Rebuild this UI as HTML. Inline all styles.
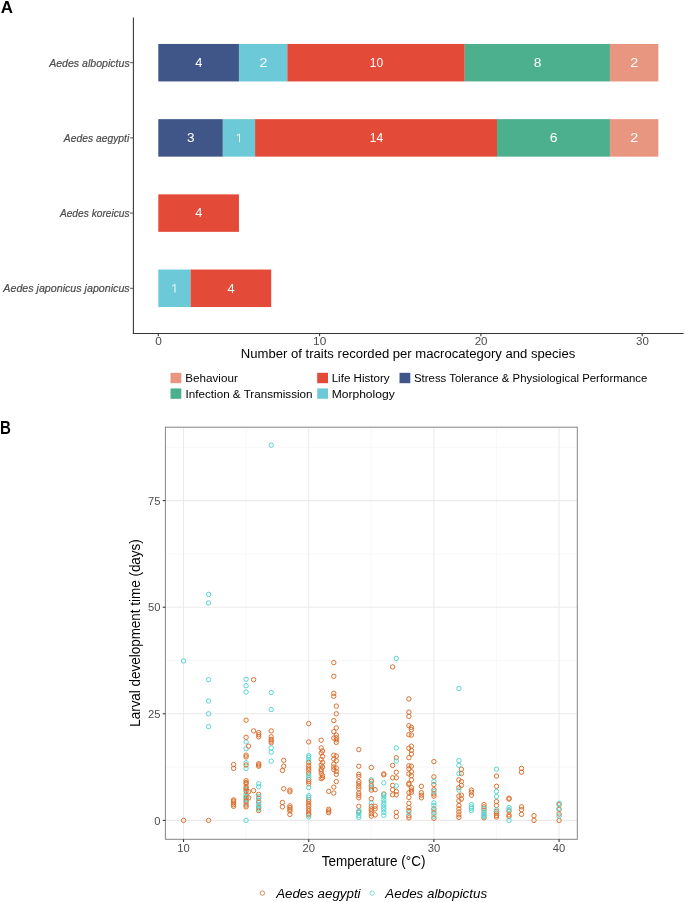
<!DOCTYPE html>
<html><head><meta charset="utf-8"><style>
html,body{margin:0;padding:0;background:#fff;overflow:hidden;}
svg{display:block;font-family:"Liberation Sans", sans-serif;will-change:transform;}
</style></head><body>
<svg width="685" height="902" viewBox="0 0 685 902">
<rect width="685" height="902" fill="#fff"/>
<text transform="translate(0.63,12.80) scale(0.9823,1)" font-size="17.246" font-weight="bold" fill="#000">A</text>
<rect x="158.30" y="43.95" width="80.65" height="37.5" fill="#405688"/>
<text transform="translate(195.32,67.00) scale(1.0327,1)" font-size="12.464" fill="#fff">4</text>
<rect x="238.95" y="43.95" width="48.39" height="37.5" fill="#6CCAD8"/>
<text transform="translate(259.38,67.00) scale(1.1628,1)" font-size="12.286" fill="#fff">2</text>
<rect x="287.34" y="43.95" width="177.43" height="37.5" fill="#E44A38"/>
<text transform="translate(369.70,67.00) scale(0.9849,1)" font-size="12.286" fill="#fff">10</text>
<rect x="464.77" y="43.95" width="145.17" height="37.5" fill="#4CB08E"/>
<text transform="translate(533.68,67.00) scale(1.1257,1)" font-size="12.286" fill="#fff">8</text>
<rect x="609.94" y="43.95" width="48.39" height="37.5" fill="#E89680"/>
<text transform="translate(630.37,67.00) scale(1.1628,1)" font-size="12.286" fill="#fff">2</text>
<line x1="130" y1="62.7" x2="133.4" y2="62.7" stroke="#333" stroke-width="0.8"/>
<text transform="translate(49.13,66.60) scale(0.8963,1)" font-size="11.807" font-style="italic" fill="#4D4D4D" stroke="#4D4D4D" stroke-width="0.22">Aedes albopictus</text>
<rect x="158.30" y="119.15" width="64.52" height="37.5" fill="#405688"/>
<text transform="translate(186.96,142.20) scale(1.1138,1)" font-size="12.286" fill="#fff">3</text>
<rect x="222.82" y="119.15" width="32.26" height="37.5" fill="#6CCAD8"/>
<path d="M239.50,142.10 V133.80 M239.20,134.10 L236.80,135.70" fill="none" stroke="#fff" stroke-width="0.95"/>
<rect x="255.08" y="119.15" width="241.95" height="37.5" fill="#E44A38"/>
<text transform="translate(369.70,142.20) scale(0.9660,1)" font-size="12.464" fill="#fff">14</text>
<rect x="497.03" y="119.15" width="112.91" height="37.5" fill="#4CB08E"/>
<text transform="translate(549.74,142.20) scale(1.1378,1)" font-size="12.286" fill="#fff">6</text>
<rect x="609.94" y="119.15" width="48.39" height="37.5" fill="#E89680"/>
<text transform="translate(630.37,142.20) scale(1.1628,1)" font-size="12.286" fill="#fff">2</text>
<line x1="130" y1="137.9" x2="133.4" y2="137.9" stroke="#333" stroke-width="0.8"/>
<text transform="translate(63.82,141.60) scale(0.8747,1)" font-size="11.807" font-style="italic" fill="#4D4D4D" stroke="#4D4D4D" stroke-width="0.22">Aedes aegypti</text>
<rect x="158.30" y="194.35" width="80.65" height="37.5" fill="#E44A38"/>
<text transform="translate(195.32,217.40) scale(1.0327,1)" font-size="12.464" fill="#fff">4</text>
<line x1="130" y1="213.1" x2="133.4" y2="213.1" stroke="#333" stroke-width="0.8"/>
<text transform="translate(59.91,216.60) scale(0.8649,1)" font-size="11.807" font-style="italic" fill="#4D4D4D" stroke="#4D4D4D" stroke-width="0.22">Aedes koreicus</text>
<rect x="158.30" y="269.55" width="32.26" height="37.5" fill="#6CCAD8"/>
<path d="M174.98,292.50 V284.20 M174.68,284.50 L172.28,286.10" fill="none" stroke="#fff" stroke-width="0.95"/>
<rect x="190.56" y="269.55" width="80.65" height="37.5" fill="#E44A38"/>
<text transform="translate(227.58,292.60) scale(1.0327,1)" font-size="12.464" fill="#fff">4</text>
<line x1="130" y1="288.3" x2="133.4" y2="288.3" stroke="#333" stroke-width="0.8"/>
<text transform="translate(3.33,292.10) scale(0.9272,1)" font-size="11.512" font-style="italic" fill="#4D4D4D" stroke="#4D4D4D" stroke-width="0.22">Aedes japonicus japonicus</text>
<line x1="133.4" y1="17.5" x2="133.4" y2="333.5" stroke="#333" stroke-width="1.07"/>
<line x1="132.9" y1="333.5" x2="683.6" y2="333.5" stroke="#333" stroke-width="1.07"/>
<line x1="158.30" y1="333.5" x2="158.30" y2="336.3" stroke="#333" stroke-width="1.07"/>
<text transform="translate(155.33,344.80) scale(1.0137,1)" font-size="11.714" fill="#4D4D4D">0</text>
<line x1="319.60" y1="333.5" x2="319.60" y2="336.3" stroke="#333" stroke-width="1.07"/>
<text transform="translate(313.12,344.80) scale(1.0073,1)" font-size="11.714" fill="#4D4D4D">10</text>
<line x1="480.90" y1="333.5" x2="480.90" y2="336.3" stroke="#333" stroke-width="1.07"/>
<text transform="translate(474.67,344.80) scale(0.9911,1)" font-size="11.714" fill="#4D4D4D">20</text>
<line x1="642.20" y1="333.5" x2="642.20" y2="336.3" stroke="#333" stroke-width="1.07"/>
<text transform="translate(636.09,344.80) scale(0.9815,1)" font-size="11.714" fill="#4D4D4D">30</text>
<text transform="translate(240.85,357.90) scale(0.9730,1)" font-size="13.469" fill="#000">Number of traits recorded per macrocategory and species</text>
<rect x="170.5" y="372.8" width="10.8" height="10.4" fill="#E89680"/>
<text transform="translate(185.27,382.10) scale(1.0742,1)" font-size="10.862" fill="#000">Behaviour</text>
<rect x="170.5" y="388.4" width="10.8" height="10.4" fill="#4CB08E"/>
<text transform="translate(185.55,397.70) scale(1.0741,1)" font-size="10.862" fill="#000">Infection &amp; Transmission</text>
<rect x="317.2" y="372.8" width="10.8" height="10.4" fill="#E44A38"/>
<text transform="translate(331.67,382.10) scale(1.0666,1)" font-size="10.862" fill="#000">Life History</text>
<rect x="317.2" y="388.4" width="10.8" height="10.4" fill="#6CCAD8"/>
<text transform="translate(331.63,397.70) scale(1.1130,1)" font-size="10.862" fill="#000">Morphology</text>
<rect x="399.5" y="372.8" width="10.8" height="10.4" fill="#405688"/>
<text transform="translate(413.99,382.10) scale(1.0493,1)" font-size="10.862" fill="#000">Stress Tolerance &amp; Physiological Performance</text>
<text transform="translate(-0.08,434.00) scale(0.8600,1)" font-size="17.536" font-weight="bold" fill="#000">B</text>
<line x1="246.13" y1="427.2" x2="246.13" y2="839.3" stroke="#F2F2F2" stroke-width="0.55"/>
<line x1="371.31" y1="427.2" x2="371.31" y2="839.3" stroke="#F2F2F2" stroke-width="0.55"/>
<line x1="496.48" y1="427.2" x2="496.48" y2="839.3" stroke="#F2F2F2" stroke-width="0.55"/>
<line x1="165.4" y1="767.10" x2="577.3" y2="767.10" stroke="#F2F2F2" stroke-width="0.55"/>
<line x1="165.4" y1="660.50" x2="577.3" y2="660.50" stroke="#F2F2F2" stroke-width="0.55"/>
<line x1="165.4" y1="553.90" x2="577.3" y2="553.90" stroke="#F2F2F2" stroke-width="0.55"/>
<line x1="165.4" y1="447.30" x2="577.3" y2="447.30" stroke="#F2F2F2" stroke-width="0.55"/>
<line x1="183.55" y1="427.2" x2="183.55" y2="839.3" stroke="#EBEBEB" stroke-width="1.07"/>
<line x1="308.72" y1="427.2" x2="308.72" y2="839.3" stroke="#EBEBEB" stroke-width="1.07"/>
<line x1="433.89" y1="427.2" x2="433.89" y2="839.3" stroke="#EBEBEB" stroke-width="1.07"/>
<line x1="559.06" y1="427.2" x2="559.06" y2="839.3" stroke="#EBEBEB" stroke-width="1.07"/>
<line x1="165.4" y1="820.40" x2="577.3" y2="820.40" stroke="#EBEBEB" stroke-width="1.07"/>
<line x1="165.4" y1="713.80" x2="577.3" y2="713.80" stroke="#EBEBEB" stroke-width="1.07"/>
<line x1="165.4" y1="607.20" x2="577.3" y2="607.20" stroke="#EBEBEB" stroke-width="1.07"/>
<line x1="165.4" y1="500.60" x2="577.3" y2="500.60" stroke="#EBEBEB" stroke-width="1.07"/>
<g id="pts" fill="none" stroke-width="0.95">
<circle cx="246.1" cy="741.9" r="2.2" stroke="#50D4CC"/>
<circle cx="246.1" cy="748.8" r="2.2" stroke="#50D4CC"/>
<circle cx="246.1" cy="762.8" r="2.2" stroke="#50D4CC"/>
<circle cx="246.1" cy="768.4" r="2.2" stroke="#50D4CC"/>
<circle cx="246.1" cy="789.7" r="2.2" stroke="#50D4CC"/>
<circle cx="246.1" cy="794.4" r="2.2" stroke="#50D4CC"/>
<circle cx="246.1" cy="796.5" r="2.2" stroke="#50D4CC"/>
<circle cx="246.1" cy="799.5" r="2.2" stroke="#50D4CC"/>
<circle cx="246.1" cy="802.9" r="2.2" stroke="#50D4CC"/>
<circle cx="246.1" cy="820.4" r="2.2" stroke="#50D4CC"/>
<circle cx="371.3" cy="779.9" r="2.2" stroke="#50D4CC"/>
<circle cx="371.3" cy="783.7" r="2.2" stroke="#50D4CC"/>
<circle cx="371.3" cy="788.0" r="2.2" stroke="#50D4CC"/>
<circle cx="371.3" cy="802.9" r="2.2" stroke="#50D4CC"/>
<circle cx="183.6" cy="820.4" r="2.2" stroke="#D86A28"/>
<circle cx="208.6" cy="820.4" r="2.2" stroke="#D86A28"/>
<circle cx="233.6" cy="764.5" r="2.2" stroke="#D86A28"/>
<circle cx="233.6" cy="768.4" r="2.2" stroke="#D86A28"/>
<circle cx="233.6" cy="799.9" r="2.2" stroke="#D86A28"/>
<circle cx="233.6" cy="801.2" r="2.2" stroke="#D86A28"/>
<circle cx="233.6" cy="802.9" r="2.2" stroke="#D86A28"/>
<circle cx="233.6" cy="804.6" r="2.2" stroke="#D86A28"/>
<circle cx="233.6" cy="806.3" r="2.2" stroke="#D86A28"/>
<circle cx="246.1" cy="720.2" r="2.2" stroke="#D86A28"/>
<circle cx="246.1" cy="737.3" r="2.2" stroke="#D86A28"/>
<circle cx="246.1" cy="755.2" r="2.2" stroke="#D86A28"/>
<circle cx="246.1" cy="756.9" r="2.2" stroke="#D86A28"/>
<circle cx="246.1" cy="765.0" r="2.2" stroke="#D86A28"/>
<circle cx="246.1" cy="780.7" r="2.2" stroke="#D86A28"/>
<circle cx="246.1" cy="782.5" r="2.2" stroke="#D86A28"/>
<circle cx="246.1" cy="783.7" r="2.2" stroke="#D86A28"/>
<circle cx="246.1" cy="786.7" r="2.2" stroke="#D86A28"/>
<circle cx="246.1" cy="788.4" r="2.2" stroke="#D86A28"/>
<circle cx="246.1" cy="791.4" r="2.2" stroke="#D86A28"/>
<circle cx="246.1" cy="797.8" r="2.2" stroke="#D86A28"/>
<circle cx="246.1" cy="801.2" r="2.2" stroke="#D86A28"/>
<circle cx="246.1" cy="805.0" r="2.2" stroke="#D86A28"/>
<circle cx="246.1" cy="806.8" r="2.2" stroke="#D86A28"/>
<circle cx="248.6" cy="746.2" r="2.2" stroke="#D86A28"/>
<circle cx="248.6" cy="791.8" r="2.2" stroke="#D86A28"/>
<circle cx="248.6" cy="797.8" r="2.2" stroke="#D86A28"/>
<circle cx="253.6" cy="679.7" r="2.2" stroke="#D86A28"/>
<circle cx="253.6" cy="730.9" r="2.2" stroke="#D86A28"/>
<circle cx="253.6" cy="790.6" r="2.2" stroke="#D86A28"/>
<circle cx="258.7" cy="732.6" r="2.2" stroke="#D86A28"/>
<circle cx="258.7" cy="734.7" r="2.2" stroke="#D86A28"/>
<circle cx="258.7" cy="736.8" r="2.2" stroke="#D86A28"/>
<circle cx="258.7" cy="763.7" r="2.2" stroke="#D86A28"/>
<circle cx="258.7" cy="765.0" r="2.2" stroke="#D86A28"/>
<circle cx="258.7" cy="766.2" r="2.2" stroke="#D86A28"/>
<circle cx="258.7" cy="794.4" r="2.2" stroke="#D86A28"/>
<circle cx="258.7" cy="798.2" r="2.2" stroke="#D86A28"/>
<circle cx="258.7" cy="802.1" r="2.2" stroke="#D86A28"/>
<circle cx="258.7" cy="807.6" r="2.2" stroke="#D86A28"/>
<circle cx="258.7" cy="810.6" r="2.2" stroke="#D86A28"/>
<circle cx="271.2" cy="730.9" r="2.2" stroke="#D86A28"/>
<circle cx="271.2" cy="736.8" r="2.2" stroke="#D86A28"/>
<circle cx="271.2" cy="739.4" r="2.2" stroke="#D86A28"/>
<circle cx="271.2" cy="741.1" r="2.2" stroke="#D86A28"/>
<circle cx="271.2" cy="742.8" r="2.2" stroke="#D86A28"/>
<circle cx="283.7" cy="760.3" r="2.2" stroke="#D86A28"/>
<circle cx="283.7" cy="766.2" r="2.2" stroke="#D86A28"/>
<circle cx="283.7" cy="788.8" r="2.2" stroke="#D86A28"/>
<circle cx="282.4" cy="770.5" r="2.2" stroke="#D86A28"/>
<circle cx="282.4" cy="802.5" r="2.2" stroke="#D86A28"/>
<circle cx="282.4" cy="806.8" r="2.2" stroke="#D86A28"/>
<circle cx="289.9" cy="790.1" r="2.2" stroke="#D86A28"/>
<circle cx="289.9" cy="791.8" r="2.2" stroke="#D86A28"/>
<circle cx="289.9" cy="805.9" r="2.2" stroke="#D86A28"/>
<circle cx="289.9" cy="807.6" r="2.2" stroke="#D86A28"/>
<circle cx="289.9" cy="809.3" r="2.2" stroke="#D86A28"/>
<circle cx="289.9" cy="811.0" r="2.2" stroke="#D86A28"/>
<circle cx="289.9" cy="814.4" r="2.2" stroke="#D86A28"/>
<circle cx="308.7" cy="723.6" r="2.2" stroke="#D86A28"/>
<circle cx="308.7" cy="741.9" r="2.2" stroke="#D86A28"/>
<circle cx="308.7" cy="762.4" r="2.2" stroke="#D86A28"/>
<circle cx="308.7" cy="765.4" r="2.2" stroke="#D86A28"/>
<circle cx="308.7" cy="768.0" r="2.2" stroke="#D86A28"/>
<circle cx="308.7" cy="770.1" r="2.2" stroke="#D86A28"/>
<circle cx="308.7" cy="773.1" r="2.2" stroke="#D86A28"/>
<circle cx="308.7" cy="779.5" r="2.2" stroke="#D86A28"/>
<circle cx="308.7" cy="781.6" r="2.2" stroke="#D86A28"/>
<circle cx="308.7" cy="783.7" r="2.2" stroke="#D86A28"/>
<circle cx="308.7" cy="799.5" r="2.2" stroke="#D86A28"/>
<circle cx="308.7" cy="801.6" r="2.2" stroke="#D86A28"/>
<circle cx="308.7" cy="804.2" r="2.2" stroke="#D86A28"/>
<circle cx="308.7" cy="806.3" r="2.2" stroke="#D86A28"/>
<circle cx="308.7" cy="808.9" r="2.2" stroke="#D86A28"/>
<circle cx="308.7" cy="811.0" r="2.2" stroke="#D86A28"/>
<circle cx="308.7" cy="813.6" r="2.2" stroke="#D86A28"/>
<circle cx="308.7" cy="814.9" r="2.2" stroke="#D86A28"/>
<circle cx="321.2" cy="740.2" r="2.2" stroke="#D86A28"/>
<circle cx="321.2" cy="747.9" r="2.2" stroke="#D86A28"/>
<circle cx="321.2" cy="753.0" r="2.2" stroke="#D86A28"/>
<circle cx="321.2" cy="759.4" r="2.2" stroke="#D86A28"/>
<circle cx="321.2" cy="765.0" r="2.2" stroke="#D86A28"/>
<circle cx="321.2" cy="769.2" r="2.2" stroke="#D86A28"/>
<circle cx="321.2" cy="770.9" r="2.2" stroke="#D86A28"/>
<circle cx="321.2" cy="773.5" r="2.2" stroke="#D86A28"/>
<circle cx="321.2" cy="778.6" r="2.2" stroke="#D86A28"/>
<circle cx="322.5" cy="750.9" r="2.2" stroke="#D86A28"/>
<circle cx="322.5" cy="756.4" r="2.2" stroke="#D86A28"/>
<circle cx="322.5" cy="762.4" r="2.2" stroke="#D86A28"/>
<circle cx="322.5" cy="767.1" r="2.2" stroke="#D86A28"/>
<circle cx="322.5" cy="775.6" r="2.2" stroke="#D86A28"/>
<circle cx="322.5" cy="777.8" r="2.2" stroke="#D86A28"/>
<circle cx="328.7" cy="791.4" r="2.2" stroke="#D86A28"/>
<circle cx="328.7" cy="809.3" r="2.2" stroke="#D86A28"/>
<circle cx="328.7" cy="811.0" r="2.2" stroke="#D86A28"/>
<circle cx="328.7" cy="812.7" r="2.2" stroke="#D86A28"/>
<circle cx="333.8" cy="662.6" r="2.2" stroke="#D86A28"/>
<circle cx="333.8" cy="676.3" r="2.2" stroke="#D86A28"/>
<circle cx="333.8" cy="693.3" r="2.2" stroke="#D86A28"/>
<circle cx="333.8" cy="696.3" r="2.2" stroke="#D86A28"/>
<circle cx="333.8" cy="720.6" r="2.2" stroke="#D86A28"/>
<circle cx="333.8" cy="731.7" r="2.2" stroke="#D86A28"/>
<circle cx="333.8" cy="738.1" r="2.2" stroke="#D86A28"/>
<circle cx="333.8" cy="755.2" r="2.2" stroke="#D86A28"/>
<circle cx="333.8" cy="759.0" r="2.2" stroke="#D86A28"/>
<circle cx="333.8" cy="764.1" r="2.2" stroke="#D86A28"/>
<circle cx="333.8" cy="767.1" r="2.2" stroke="#D86A28"/>
<circle cx="333.8" cy="769.7" r="2.2" stroke="#D86A28"/>
<circle cx="333.8" cy="787.1" r="2.2" stroke="#D86A28"/>
<circle cx="333.8" cy="793.1" r="2.2" stroke="#D86A28"/>
<circle cx="336.3" cy="706.1" r="2.2" stroke="#D86A28"/>
<circle cx="336.3" cy="713.8" r="2.2" stroke="#D86A28"/>
<circle cx="336.3" cy="727.9" r="2.2" stroke="#D86A28"/>
<circle cx="336.3" cy="735.1" r="2.2" stroke="#D86A28"/>
<circle cx="336.3" cy="737.7" r="2.2" stroke="#D86A28"/>
<circle cx="336.3" cy="739.8" r="2.2" stroke="#D86A28"/>
<circle cx="336.3" cy="742.4" r="2.2" stroke="#D86A28"/>
<circle cx="336.3" cy="756.0" r="2.2" stroke="#D86A28"/>
<circle cx="336.3" cy="760.7" r="2.2" stroke="#D86A28"/>
<circle cx="336.3" cy="768.0" r="2.2" stroke="#D86A28"/>
<circle cx="336.3" cy="771.4" r="2.2" stroke="#D86A28"/>
<circle cx="336.3" cy="774.3" r="2.2" stroke="#D86A28"/>
<circle cx="336.3" cy="781.6" r="2.2" stroke="#D86A28"/>
<circle cx="358.8" cy="749.6" r="2.2" stroke="#D86A28"/>
<circle cx="358.8" cy="766.2" r="2.2" stroke="#D86A28"/>
<circle cx="358.8" cy="774.3" r="2.2" stroke="#D86A28"/>
<circle cx="358.8" cy="776.5" r="2.2" stroke="#D86A28"/>
<circle cx="358.8" cy="781.6" r="2.2" stroke="#D86A28"/>
<circle cx="358.8" cy="783.7" r="2.2" stroke="#D86A28"/>
<circle cx="358.8" cy="786.3" r="2.2" stroke="#D86A28"/>
<circle cx="358.8" cy="788.8" r="2.2" stroke="#D86A28"/>
<circle cx="358.8" cy="793.1" r="2.2" stroke="#D86A28"/>
<circle cx="358.8" cy="795.2" r="2.2" stroke="#D86A28"/>
<circle cx="358.8" cy="797.8" r="2.2" stroke="#D86A28"/>
<circle cx="358.8" cy="806.3" r="2.2" stroke="#D86A28"/>
<circle cx="358.8" cy="811.9" r="2.2" stroke="#D86A28"/>
<circle cx="371.3" cy="767.5" r="2.2" stroke="#D86A28"/>
<circle cx="371.3" cy="781.2" r="2.2" stroke="#D86A28"/>
<circle cx="371.3" cy="785.9" r="2.2" stroke="#D86A28"/>
<circle cx="371.3" cy="790.1" r="2.2" stroke="#D86A28"/>
<circle cx="371.3" cy="798.7" r="2.2" stroke="#D86A28"/>
<circle cx="371.3" cy="806.3" r="2.2" stroke="#D86A28"/>
<circle cx="371.3" cy="808.9" r="2.2" stroke="#D86A28"/>
<circle cx="371.3" cy="811.0" r="2.2" stroke="#D86A28"/>
<circle cx="371.3" cy="813.6" r="2.2" stroke="#D86A28"/>
<circle cx="371.3" cy="816.1" r="2.2" stroke="#D86A28"/>
<circle cx="375.1" cy="789.7" r="2.2" stroke="#D86A28"/>
<circle cx="375.1" cy="806.3" r="2.2" stroke="#D86A28"/>
<circle cx="375.1" cy="808.9" r="2.2" stroke="#D86A28"/>
<circle cx="375.1" cy="814.9" r="2.2" stroke="#D86A28"/>
<circle cx="383.8" cy="773.9" r="2.2" stroke="#D86A28"/>
<circle cx="383.8" cy="774.8" r="2.2" stroke="#D86A28"/>
<circle cx="383.8" cy="794.0" r="2.2" stroke="#D86A28"/>
<circle cx="392.6" cy="666.9" r="2.2" stroke="#D86A28"/>
<circle cx="392.6" cy="765.4" r="2.2" stroke="#D86A28"/>
<circle cx="392.6" cy="777.8" r="2.2" stroke="#D86A28"/>
<circle cx="392.6" cy="785.4" r="2.2" stroke="#D86A28"/>
<circle cx="392.6" cy="789.7" r="2.2" stroke="#D86A28"/>
<circle cx="392.6" cy="794.8" r="2.2" stroke="#D86A28"/>
<circle cx="396.3" cy="757.7" r="2.2" stroke="#D86A28"/>
<circle cx="396.3" cy="772.2" r="2.2" stroke="#D86A28"/>
<circle cx="396.3" cy="777.8" r="2.2" stroke="#D86A28"/>
<circle cx="396.3" cy="791.4" r="2.2" stroke="#D86A28"/>
<circle cx="396.3" cy="794.8" r="2.2" stroke="#D86A28"/>
<circle cx="396.3" cy="812.3" r="2.2" stroke="#D86A28"/>
<circle cx="396.3" cy="816.6" r="2.2" stroke="#D86A28"/>
<circle cx="408.9" cy="698.9" r="2.2" stroke="#D86A28"/>
<circle cx="408.9" cy="712.1" r="2.2" stroke="#D86A28"/>
<circle cx="408.9" cy="716.4" r="2.2" stroke="#D86A28"/>
<circle cx="408.9" cy="725.7" r="2.2" stroke="#D86A28"/>
<circle cx="408.9" cy="734.7" r="2.2" stroke="#D86A28"/>
<circle cx="408.9" cy="748.3" r="2.2" stroke="#D86A28"/>
<circle cx="408.9" cy="757.7" r="2.2" stroke="#D86A28"/>
<circle cx="408.9" cy="765.8" r="2.2" stroke="#D86A28"/>
<circle cx="408.9" cy="768.8" r="2.2" stroke="#D86A28"/>
<circle cx="408.9" cy="773.9" r="2.2" stroke="#D86A28"/>
<circle cx="408.9" cy="783.3" r="2.2" stroke="#D86A28"/>
<circle cx="408.9" cy="784.6" r="2.2" stroke="#D86A28"/>
<circle cx="408.9" cy="792.7" r="2.2" stroke="#D86A28"/>
<circle cx="408.9" cy="797.4" r="2.2" stroke="#D86A28"/>
<circle cx="408.9" cy="803.3" r="2.2" stroke="#D86A28"/>
<circle cx="408.9" cy="807.6" r="2.2" stroke="#D86A28"/>
<circle cx="408.9" cy="810.6" r="2.2" stroke="#D86A28"/>
<circle cx="408.9" cy="815.7" r="2.2" stroke="#D86A28"/>
<circle cx="408.9" cy="817.8" r="2.2" stroke="#D86A28"/>
<circle cx="411.4" cy="727.4" r="2.2" stroke="#D86A28"/>
<circle cx="411.4" cy="729.6" r="2.2" stroke="#D86A28"/>
<circle cx="411.4" cy="735.1" r="2.2" stroke="#D86A28"/>
<circle cx="411.4" cy="746.2" r="2.2" stroke="#D86A28"/>
<circle cx="411.4" cy="750.5" r="2.2" stroke="#D86A28"/>
<circle cx="411.4" cy="753.9" r="2.2" stroke="#D86A28"/>
<circle cx="411.4" cy="766.2" r="2.2" stroke="#D86A28"/>
<circle cx="411.4" cy="771.8" r="2.2" stroke="#D86A28"/>
<circle cx="411.4" cy="775.6" r="2.2" stroke="#D86A28"/>
<circle cx="411.4" cy="779.9" r="2.2" stroke="#D86A28"/>
<circle cx="411.4" cy="787.6" r="2.2" stroke="#D86A28"/>
<circle cx="411.4" cy="790.1" r="2.2" stroke="#D86A28"/>
<circle cx="411.4" cy="792.3" r="2.2" stroke="#D86A28"/>
<circle cx="421.4" cy="786.3" r="2.2" stroke="#D86A28"/>
<circle cx="421.4" cy="792.7" r="2.2" stroke="#D86A28"/>
<circle cx="421.4" cy="795.2" r="2.2" stroke="#D86A28"/>
<circle cx="421.4" cy="797.8" r="2.2" stroke="#D86A28"/>
<circle cx="433.9" cy="761.6" r="2.2" stroke="#D86A28"/>
<circle cx="433.9" cy="776.9" r="2.2" stroke="#D86A28"/>
<circle cx="433.9" cy="784.6" r="2.2" stroke="#D86A28"/>
<circle cx="433.9" cy="789.7" r="2.2" stroke="#D86A28"/>
<circle cx="433.9" cy="794.0" r="2.2" stroke="#D86A28"/>
<circle cx="433.9" cy="796.1" r="2.2" stroke="#D86A28"/>
<circle cx="433.9" cy="808.9" r="2.2" stroke="#D86A28"/>
<circle cx="433.9" cy="813.2" r="2.2" stroke="#D86A28"/>
<circle cx="433.9" cy="818.3" r="2.2" stroke="#D86A28"/>
<circle cx="458.9" cy="779.9" r="2.2" stroke="#D86A28"/>
<circle cx="458.9" cy="787.6" r="2.2" stroke="#D86A28"/>
<circle cx="458.9" cy="796.1" r="2.2" stroke="#D86A28"/>
<circle cx="458.9" cy="800.8" r="2.2" stroke="#D86A28"/>
<circle cx="458.9" cy="805.5" r="2.2" stroke="#D86A28"/>
<circle cx="458.9" cy="808.9" r="2.2" stroke="#D86A28"/>
<circle cx="458.9" cy="811.9" r="2.2" stroke="#D86A28"/>
<circle cx="458.9" cy="814.9" r="2.2" stroke="#D86A28"/>
<circle cx="458.9" cy="817.4" r="2.2" stroke="#D86A28"/>
<circle cx="461.4" cy="769.2" r="2.2" stroke="#D86A28"/>
<circle cx="461.4" cy="773.5" r="2.2" stroke="#D86A28"/>
<circle cx="461.4" cy="781.6" r="2.2" stroke="#D86A28"/>
<circle cx="461.4" cy="785.4" r="2.2" stroke="#D86A28"/>
<circle cx="461.4" cy="795.2" r="2.2" stroke="#D86A28"/>
<circle cx="461.4" cy="799.1" r="2.2" stroke="#D86A28"/>
<circle cx="471.4" cy="790.1" r="2.2" stroke="#D86A28"/>
<circle cx="471.4" cy="792.3" r="2.2" stroke="#D86A28"/>
<circle cx="471.4" cy="795.2" r="2.2" stroke="#D86A28"/>
<circle cx="484.0" cy="804.6" r="2.2" stroke="#D86A28"/>
<circle cx="484.0" cy="806.8" r="2.2" stroke="#D86A28"/>
<circle cx="484.0" cy="810.2" r="2.2" stroke="#D86A28"/>
<circle cx="484.0" cy="817.8" r="2.2" stroke="#D86A28"/>
<circle cx="496.5" cy="776.1" r="2.2" stroke="#D86A28"/>
<circle cx="496.5" cy="786.3" r="2.2" stroke="#D86A28"/>
<circle cx="496.5" cy="801.6" r="2.2" stroke="#D86A28"/>
<circle cx="496.5" cy="805.5" r="2.2" stroke="#D86A28"/>
<circle cx="496.5" cy="811.4" r="2.2" stroke="#D86A28"/>
<circle cx="496.5" cy="813.2" r="2.2" stroke="#D86A28"/>
<circle cx="496.5" cy="815.3" r="2.2" stroke="#D86A28"/>
<circle cx="496.5" cy="817.0" r="2.2" stroke="#D86A28"/>
<circle cx="509.0" cy="798.2" r="2.2" stroke="#D86A28"/>
<circle cx="509.0" cy="799.1" r="2.2" stroke="#D86A28"/>
<circle cx="509.0" cy="811.0" r="2.2" stroke="#D86A28"/>
<circle cx="509.0" cy="814.9" r="2.2" stroke="#D86A28"/>
<circle cx="509.0" cy="816.6" r="2.2" stroke="#D86A28"/>
<circle cx="521.5" cy="768.4" r="2.2" stroke="#D86A28"/>
<circle cx="521.5" cy="772.2" r="2.2" stroke="#D86A28"/>
<circle cx="521.5" cy="806.8" r="2.2" stroke="#D86A28"/>
<circle cx="521.5" cy="809.7" r="2.2" stroke="#D86A28"/>
<circle cx="521.5" cy="814.4" r="2.2" stroke="#D86A28"/>
<circle cx="534.0" cy="815.7" r="2.2" stroke="#D86A28"/>
<circle cx="534.0" cy="820.4" r="2.2" stroke="#D86A28"/>
<circle cx="559.1" cy="804.6" r="2.2" stroke="#D86A28"/>
<circle cx="559.1" cy="809.3" r="2.2" stroke="#D86A28"/>
<circle cx="559.1" cy="814.0" r="2.2" stroke="#D86A28"/>
<circle cx="559.1" cy="820.4" r="2.2" stroke="#D86A28"/>
<circle cx="183.6" cy="660.9" r="2.2" stroke="#50D4CC"/>
<circle cx="208.6" cy="594.4" r="2.2" stroke="#50D4CC"/>
<circle cx="208.6" cy="602.9" r="2.2" stroke="#50D4CC"/>
<circle cx="208.6" cy="679.7" r="2.2" stroke="#50D4CC"/>
<circle cx="208.6" cy="701.0" r="2.2" stroke="#50D4CC"/>
<circle cx="208.6" cy="713.8" r="2.2" stroke="#50D4CC"/>
<circle cx="208.6" cy="726.6" r="2.2" stroke="#50D4CC"/>
<circle cx="246.1" cy="679.3" r="2.2" stroke="#50D4CC"/>
<circle cx="246.1" cy="685.7" r="2.2" stroke="#50D4CC"/>
<circle cx="246.1" cy="692.1" r="2.2" stroke="#50D4CC"/>
<circle cx="258.7" cy="783.7" r="2.2" stroke="#50D4CC"/>
<circle cx="258.7" cy="786.7" r="2.2" stroke="#50D4CC"/>
<circle cx="258.7" cy="796.5" r="2.2" stroke="#50D4CC"/>
<circle cx="258.7" cy="800.4" r="2.2" stroke="#50D4CC"/>
<circle cx="258.7" cy="804.6" r="2.2" stroke="#50D4CC"/>
<circle cx="258.7" cy="805.9" r="2.2" stroke="#50D4CC"/>
<circle cx="258.7" cy="808.9" r="2.2" stroke="#50D4CC"/>
<circle cx="271.2" cy="445.2" r="2.2" stroke="#50D4CC"/>
<circle cx="271.2" cy="692.5" r="2.2" stroke="#50D4CC"/>
<circle cx="271.2" cy="709.5" r="2.2" stroke="#50D4CC"/>
<circle cx="271.2" cy="747.9" r="2.2" stroke="#50D4CC"/>
<circle cx="271.2" cy="752.2" r="2.2" stroke="#50D4CC"/>
<circle cx="271.2" cy="761.1" r="2.2" stroke="#50D4CC"/>
<circle cx="308.7" cy="755.6" r="2.2" stroke="#50D4CC"/>
<circle cx="308.7" cy="757.3" r="2.2" stroke="#50D4CC"/>
<circle cx="308.7" cy="759.9" r="2.2" stroke="#50D4CC"/>
<circle cx="308.7" cy="775.2" r="2.2" stroke="#50D4CC"/>
<circle cx="308.7" cy="777.3" r="2.2" stroke="#50D4CC"/>
<circle cx="308.7" cy="787.6" r="2.2" stroke="#50D4CC"/>
<circle cx="308.7" cy="795.7" r="2.2" stroke="#50D4CC"/>
<circle cx="308.7" cy="797.4" r="2.2" stroke="#50D4CC"/>
<circle cx="308.7" cy="817.0" r="2.2" stroke="#50D4CC"/>
<circle cx="358.8" cy="810.6" r="2.2" stroke="#50D4CC"/>
<circle cx="358.8" cy="812.7" r="2.2" stroke="#50D4CC"/>
<circle cx="358.8" cy="815.3" r="2.2" stroke="#50D4CC"/>
<circle cx="358.8" cy="817.4" r="2.2" stroke="#50D4CC"/>
<circle cx="383.8" cy="782.9" r="2.2" stroke="#50D4CC"/>
<circle cx="383.8" cy="794.8" r="2.2" stroke="#50D4CC"/>
<circle cx="383.8" cy="796.9" r="2.2" stroke="#50D4CC"/>
<circle cx="383.8" cy="799.5" r="2.2" stroke="#50D4CC"/>
<circle cx="383.8" cy="802.1" r="2.2" stroke="#50D4CC"/>
<circle cx="383.8" cy="804.6" r="2.2" stroke="#50D4CC"/>
<circle cx="383.8" cy="807.2" r="2.2" stroke="#50D4CC"/>
<circle cx="383.8" cy="809.7" r="2.2" stroke="#50D4CC"/>
<circle cx="383.8" cy="812.3" r="2.2" stroke="#50D4CC"/>
<circle cx="383.8" cy="815.3" r="2.2" stroke="#50D4CC"/>
<circle cx="396.3" cy="658.4" r="2.2" stroke="#50D4CC"/>
<circle cx="396.3" cy="747.9" r="2.2" stroke="#50D4CC"/>
<circle cx="396.3" cy="761.1" r="2.2" stroke="#50D4CC"/>
<circle cx="396.3" cy="785.9" r="2.2" stroke="#50D4CC"/>
<circle cx="408.9" cy="812.7" r="2.2" stroke="#50D4CC"/>
<circle cx="433.9" cy="781.6" r="2.2" stroke="#50D4CC"/>
<circle cx="433.9" cy="791.4" r="2.2" stroke="#50D4CC"/>
<circle cx="433.9" cy="802.9" r="2.2" stroke="#50D4CC"/>
<circle cx="433.9" cy="805.5" r="2.2" stroke="#50D4CC"/>
<circle cx="433.9" cy="811.0" r="2.2" stroke="#50D4CC"/>
<circle cx="433.9" cy="816.1" r="2.2" stroke="#50D4CC"/>
<circle cx="458.9" cy="688.6" r="2.2" stroke="#50D4CC"/>
<circle cx="458.9" cy="760.7" r="2.2" stroke="#50D4CC"/>
<circle cx="458.9" cy="765.4" r="2.2" stroke="#50D4CC"/>
<circle cx="458.9" cy="773.5" r="2.2" stroke="#50D4CC"/>
<circle cx="458.9" cy="790.1" r="2.2" stroke="#50D4CC"/>
<circle cx="471.4" cy="804.6" r="2.2" stroke="#50D4CC"/>
<circle cx="471.4" cy="806.8" r="2.2" stroke="#50D4CC"/>
<circle cx="471.4" cy="808.5" r="2.2" stroke="#50D4CC"/>
<circle cx="471.4" cy="810.6" r="2.2" stroke="#50D4CC"/>
<circle cx="484.0" cy="808.5" r="2.2" stroke="#50D4CC"/>
<circle cx="484.0" cy="812.3" r="2.2" stroke="#50D4CC"/>
<circle cx="484.0" cy="814.0" r="2.2" stroke="#50D4CC"/>
<circle cx="484.0" cy="815.3" r="2.2" stroke="#50D4CC"/>
<circle cx="484.0" cy="816.6" r="2.2" stroke="#50D4CC"/>
<circle cx="496.5" cy="769.2" r="2.2" stroke="#50D4CC"/>
<circle cx="496.5" cy="791.4" r="2.2" stroke="#50D4CC"/>
<circle cx="496.5" cy="796.5" r="2.2" stroke="#50D4CC"/>
<circle cx="496.5" cy="809.7" r="2.2" stroke="#50D4CC"/>
<circle cx="509.0" cy="807.6" r="2.2" stroke="#50D4CC"/>
<circle cx="509.0" cy="809.7" r="2.2" stroke="#50D4CC"/>
<circle cx="509.0" cy="820.4" r="2.2" stroke="#50D4CC"/>
<circle cx="559.1" cy="803.3" r="2.2" stroke="#50D4CC"/>
<circle cx="559.1" cy="808.9" r="2.2" stroke="#50D4CC"/>
<circle cx="559.1" cy="816.1" r="2.2" stroke="#50D4CC"/>
</g>
<rect x="165.4" y="427.2" width="411.9" height="412.09999999999997" fill="none" stroke="#858585" stroke-width="1.0"/>
<line x1="183.55" y1="839.3" x2="183.55" y2="842.0" stroke="#333" stroke-width="1.07"/>
<text x="183.55" y="851.8" font-size="11.2" fill="#4D4D4D" text-anchor="middle">10</text>
<line x1="308.72" y1="839.3" x2="308.72" y2="842.0" stroke="#333" stroke-width="1.07"/>
<text x="308.72" y="851.8" font-size="11.2" fill="#4D4D4D" text-anchor="middle">20</text>
<line x1="433.89" y1="839.3" x2="433.89" y2="842.0" stroke="#333" stroke-width="1.07"/>
<text x="433.89" y="851.8" font-size="11.2" fill="#4D4D4D" text-anchor="middle">30</text>
<line x1="559.06" y1="839.3" x2="559.06" y2="842.0" stroke="#333" stroke-width="1.07"/>
<text x="559.06" y="851.8" font-size="11.2" fill="#4D4D4D" text-anchor="middle">40</text>
<line x1="162.70000000000002" y1="820.40" x2="165.4" y2="820.40" stroke="#333" stroke-width="1.07"/>
<text x="160.5" y="824.50" font-size="11.2" fill="#4D4D4D" text-anchor="end">0</text>
<line x1="162.70000000000002" y1="713.80" x2="165.4" y2="713.80" stroke="#333" stroke-width="1.07"/>
<text x="160.5" y="717.90" font-size="11.2" fill="#4D4D4D" text-anchor="end">25</text>
<line x1="162.70000000000002" y1="607.20" x2="165.4" y2="607.20" stroke="#333" stroke-width="1.07"/>
<text x="160.5" y="611.30" font-size="11.2" fill="#4D4D4D" text-anchor="end">50</text>
<line x1="162.70000000000002" y1="500.60" x2="165.4" y2="500.60" stroke="#333" stroke-width="1.07"/>
<text x="160.5" y="504.70" font-size="11.2" fill="#4D4D4D" text-anchor="end">75</text>
<text transform="translate(140.20,725.70) rotate(-90) translate(-1.08,0.00) scale(0.9652,1)" font-size="13.931" fill="#000">Larval development time (days)</text>
<text transform="translate(321.63,866.30) scale(0.9527,1)" font-size="14.207" fill="#000">Temperature (°C)</text>
<circle cx="262.4" cy="893.1" r="2.2" fill="none" stroke="#D86A28" stroke-width="0.75"/>
<text transform="translate(276.17,897.80) scale(1.0073,1)" font-size="13.241" font-style="italic" fill="#000">Aedes aegypti</text>
<circle cx="372.2" cy="893.1" r="2.2" fill="none" stroke="#50D4CC" stroke-width="0.75"/>
<text transform="translate(385.37,897.80) scale(1.0096,1)" font-size="13.241" font-style="italic" fill="#000">Aedes albopictus</text>
</svg></body></html>
